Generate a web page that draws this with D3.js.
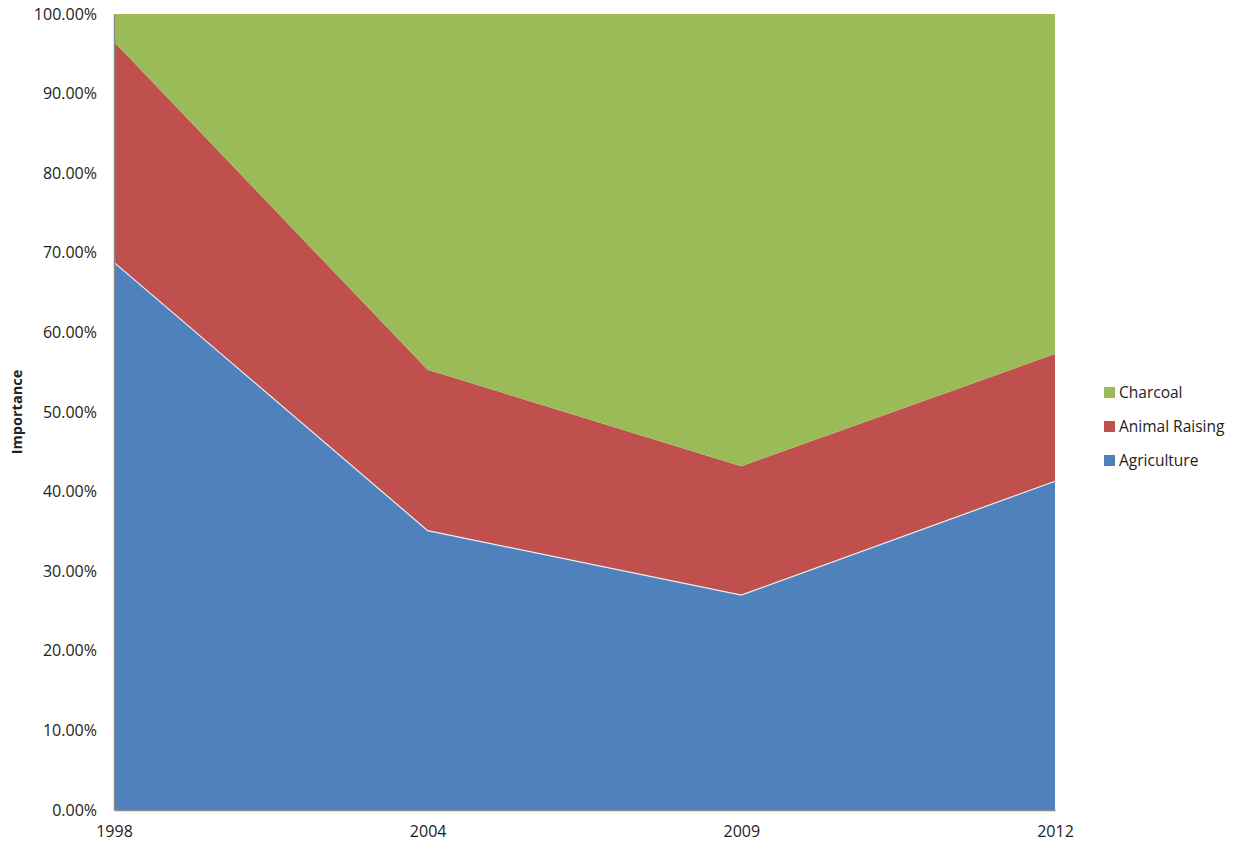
<!DOCTYPE html>
<html>
<head>
<meta charset="utf-8">
<script src="https://cdn.jsdelivr.net/npm/d3@7"></script>
<style>
  body { margin: 0; background: #fff; }
  svg text { font-family: "Open Sans", "Noto Sans", sans-serif; fill: #222; }
</style>
</head>
<body>
<svg id="chart" width="1240" height="848"></svg>
<script>
// values (shares, stacked to 100%)
const years = ["1998", "2004", "2009", "2012"];
const agriculture = [0.688, 0.351, 0.270, 0.413];
const animalRaising = [0.277, 0.202, 0.162, 0.160];
const charcoal = [0.035, 0.447, 0.568, 0.427];
const seriesNames = ["Agriculture", "Animal Raising", "Charcoal"];
const seriesColors = ["#4F81BD", "#C0504D", "#9BBB59"];
const yTicks = [0, 0.1, 0.2, 0.3, 0.4, 0.5, 0.6, 0.7, 0.8, 0.9, 1.0];

const svg = d3.select("#chart");
const margin = { left: 114, right: 185, top: 14, bottom: 38 };
const width = 1240, height = 848;

const rows = years.map((y, i) => ({
    year: y,
    "Agriculture": agriculture[i],
    "Animal Raising": animalRaising[i],
    "Charcoal": charcoal[i]
}));

const x = d3.scalePoint().domain(years).range([margin.left, width - margin.right]);
const y = d3.scaleLinear().domain([0, 1]).range([height - margin.bottom, margin.top]);
const color = d3.scaleOrdinal().domain(seriesNames).range(seriesColors);

const stacked = d3.stack().keys(seriesNames)(rows);

const area = d3.area()
    .x(d => x(d.data.year))
    .y0(d => y(d[0]))
    .y1(d => y(d[1]));

svg.append("g").selectAll("path")
    .data(stacked)
    .join("path")
    .attr("fill", d => color(d.key))
    .attr("d", area);

// light edge along the top of agriculture
svg.append("path")
    .datum(stacked[0])
    .attr("fill", "none")
    .attr("stroke", "#e8eef6")
    .attr("stroke-width", 1.2)
    .attr("d", d3.line().x(d => x(d.data.year)).y(d => y(d[1])));

// axes
const yAxis = svg.append("g")
    .attr("transform", `translate(${margin.left},0)`)
    .call(d3.axisLeft(y).tickValues(yTicks).tickSize(0).tickPadding(17)
        .tickFormat(d => (d * 100).toFixed(2) + "%"));
yAxis.select(".domain").attr("stroke", "#8c8c8c").attr("stroke-width", 1.5);
yAxis.selectAll("text").style("font-size", "16px").attr("fill", "#222");

const xAxis = svg.append("g")
    .attr("transform", `translate(0,${height - margin.bottom})`)
    .call(d3.axisBottom(x).tickSize(0).tickPadding(16));
xAxis.select(".domain").attr("stroke", "#8c8c8c").attr("stroke-width", 1.5);
xAxis.selectAll("text").style("font-size", "16px").attr("fill", "#222");

svg.append("text")
    .attr("transform", `translate(22,${(margin.top + height - margin.bottom) / 2}) rotate(-90)`)
    .attr("text-anchor", "middle")
    .style("font-size", "14.5px")
    .style("font-weight", "bold")
    .text("Importance");

// legend
const legendItems = ["Charcoal", "Animal Raising", "Agriculture"];
const legend = svg.append("g").attr("transform", "translate(1104,387)");
legendItems.forEach((name, i) => {
    const g = legend.append("g").attr("transform", `translate(0,${i * 34})`);
    g.append("rect").attr("width", 11).attr("height", 11).attr("fill", color(name));
    g.append("text").attr("x", 15).attr("y", 11)
        .style("font-size", "15.5px").text(name);
});
</script>
</body>
</html>
